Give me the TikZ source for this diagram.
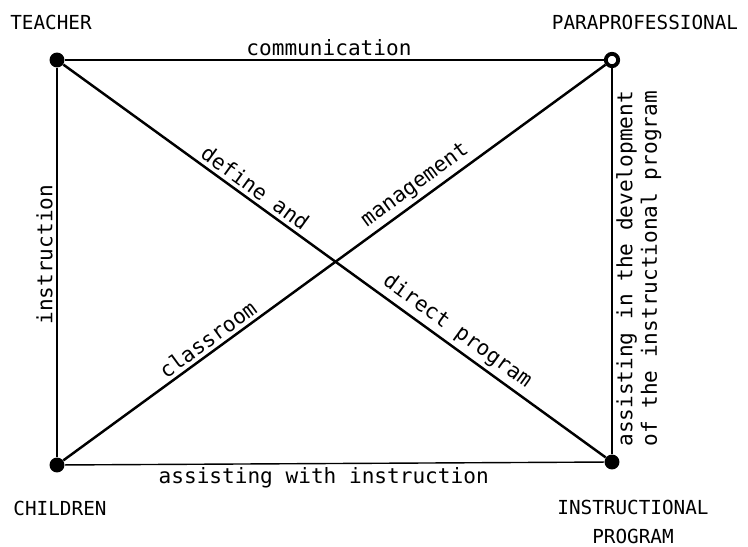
\documentclass[tikz,border=0pt]{standalone}
\usepackage{fontspec}
\newfontfamily\typewr{DejaVu Sans Mono}
\usetikzlibrary{positioning}
\begin{document}
\begin{tikzpicture}[
        x=0.02cm, y=-0.02cm,
        dot/.style={circle, fill=black, inner sep=0pt, minimum size=8.5pt},
        ring/.style={circle, draw, line width=2.2pt, fill=white, inner sep=0pt, minimum size=7pt},
        side/.style={draw, line width=0.8pt},
        diag/.style={draw, line width=1.4pt},
        lbl/.style={font=\typewr\fontsize{12}{14}\selectfont, inner sep=2pt},
        caps/.style={font=\typewr\fontsize{11}{16}\selectfont, align=center}
    ]
        \useasboundingbox (0,0) rectangle (748,547);

        % Corner points
        \node[dot] (teacher) at (57,60) {};
        \node[ring] (para) at (612,60) {};
        \node[dot] (children) at (57,465) {};
        \node[dot] (instr) at (612,462) {};

        % Corner names
        \node[caps] (teachername) at (51,22) {TEACHER};
        \node[caps] (paraname) at (645,22) {PARAPROFESSIONAL};
        \node[caps] (childrenname) at (60,508) {CHILDREN};
        \node[caps] (instrname) at (633,522) {INSTRUCTIONAL\\PROGRAM};

        % Sides
        \draw[side] (teacher) -- node[lbl, above, pos=0.49] {communication} (para);
        \draw[side] (children) -- node[lbl, below, pos=0.48] {assisting with instruction} (instr);
        \draw[side] (teacher) -- node[lbl, rotate=90, anchor=south, pos=0.48] {instruction} (children);
        \draw[side] (instr) -- node[lbl, rotate=90, anchor=north, align=center, pos=0.48]
            {assisting in the development\\of the instructional program} (para);

        % Diagonals
        \draw[diag] (teacher) -- node[lbl, above, sloped, pos=0.34] {define and}
            node[lbl, above, sloped, pos=0.71] {direct program} (instr);
        \draw[diag] (children) -- node[lbl, above, sloped, pos=0.28] {classroom}
            node[lbl, above, sloped, pos=0.665] {management} (para);
    \end{tikzpicture}
\end{document}
